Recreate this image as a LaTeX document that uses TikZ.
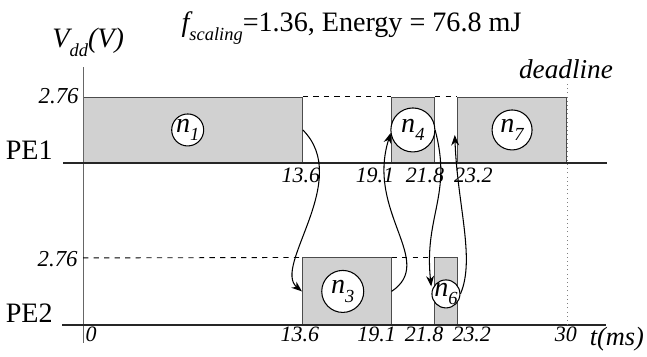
\documentclass[tikz,border=0pt]{standalone}
\usepackage{fontspec}
\setmainfont{Liberation Serif}
\usetikzlibrary{fit,arrows.meta}
\newcommand{\lowidx}[1]{\raisebox{-0.3em}{\fontsize{10.5}{12}\selectfont\itshape #1}}
\newcommand{\nn}[1]{\makebox[0pt]{\itshape n\lowidx{#1}}}
\begin{document}
\begin{tikzpicture}[x=0.3227cm, y=1cm, font=\fontsize{16}{19}\selectfont,
    task/.style={draw=black!70, fill=black!18, inner sep=0pt, line width=0.5pt},
    job/.style={circle, draw, fill=white, inner sep=0pt, line width=0.6pt},
    tick/.style={font=\fontsize{12.5}{15}\selectfont\itshape, inner sep=1pt, anchor=north},
    link/.style={-{Stealth[length=6pt,width=4.5pt]}, line width=0.6pt}]
    \useasboundingbox (-5.146,-0.64) rectangle (34.965,6.5);

    % Task PE1
    \node[task, fit={(0,3.24) (13.6,4.56)}] (b1) {};
    \node[task, fit={(19.1,3.24) (21.8,4.56)}] (b4) {};
    \node[task, fit={(23.2,3.24) (30,4.56)}] (b7) {};
    % Task PE2
    \node[task, fit={(13.6,0) (19.1,1.34)}] (b3) {};
    \node[task, fit={(21.8,0) (23.2,1.34)}] (b6) {};

    % Assi
    \draw[black!60, line width=0.5pt] (0,-0.36) -- (0,5.16);
    \draw[black!85, line width=0.9pt] (-1.24,3.24) -- (32.5,3.24);
    \draw[black!85, line width=0.9pt] (-1.3,0) -- (32.4,0);
    \draw[black!50, dotted] (30,0) -- (30,4.84);

    % Livello 2.76 tratteggiato
    \draw[dashed, line width=0.5pt] (b1.north east) -- (b4.north west);
    \draw[dashed, line width=0.5pt] (b4.north east) -- (b7.north west);
    \draw[dashed, line width=0.5pt] (0,1.34) -- (b3.north west);
    \draw[dashed, line width=0.5pt] (b3.north east) -- (b6.north west);

    % Cerchi dei task
    \node[job, minimum size=0.64cm, xshift=-0.1cm] (n1) at (b1) {\nn{1}};
    \node[job, minimum size=0.88cm] (n4) at (b4) {\nn{4}};
    \node[job, minimum size=0.80cm] (n7) at (b7) {\nn{7}};
    \node[job, minimum size=0.84cm, xshift=-0.08cm] (n3) at (b3) {\nn{3}};
    \node[job, minimum size=0.56cm, yshift=-0.05cm] (n6) at (b6) {\nn{6}};

    % Dipendenze
    \draw[link] (b1.east) .. controls +(1cm,-1cm) and +(-0.6cm,0.5cm) .. (b3.west);
    \draw[link] (b3.east) .. controls +(0.9cm,0.6cm) and +(-0.5cm,-1.6cm) .. ([yshift=-0.06cm]b4.west);
    \draw[link] (b4.east) .. controls +(0.35cm,-1.3cm) and +(-0.15cm,1.4cm) .. ([xshift=-0.06cm,yshift=0.1cm]b6.west);
    \draw[link] (n6.east) .. controls +(0.3cm,0.7cm) and +(0.05cm,-1.4cm) .. ([xshift=-0.04cm,yshift=-0.1cm]b7.west);

    % Etichette
    \node[anchor=base] (titolo) at (16.65,5.86) {{\itshape f}\lowidx{scaling}=1.36, Energy = 76.8 mJ};
    \node[anchor=base west, inner sep=0pt] (vdd) at (-1.92,5.54) {\itshape V\lowidx{dd}(V)};
    \node[anchor=base, font=\fontsize{15.5}{18}\selectfont\itshape] (dl) at (29.94,4.92) {deadline};
    \node[anchor=east, inner sep=0pt, font=\fontsize{13}{15}\selectfont\itshape] (v1) at (-0.25,4.58) {2.76};
    \node[anchor=east, inner sep=0pt, font=\fontsize{13}{15}\selectfont\itshape] (v2) at (-0.31,1.32) {2.76};
    \node[anchor=base east, inner sep=0pt] (pe1) at (-1.86,3.30) {PE1};
    \node[anchor=base east, inner sep=0pt] (pe2) at (-1.86,0.04) {PE2};

    % Tempi PE1
    \node[tick, yshift=-0.06cm] (a136) at (13.5,3.24) {13.6};
    \node[tick, yshift=-0.06cm] (a191) at (18.1,3.24) {19.1};
    \node[tick, yshift=-0.06cm] (a218) at (21.2,3.24) {21.8};
    \node[tick, yshift=-0.06cm] (a232) at (24.2,3.24) {23.2};
    % Tempi PE2
    \node[tick] (c0) at (0.5,0) {0};
    \node[tick] (c136) at (13.45,0) {13.6};
    \node[tick] (c191) at (18.2,0) {19.1};
    \node[tick] (c218) at (21.15,0) {21.8};
    \node[tick] (c232) at (24.1,0) {23.2};
    \node[tick] (c30) at (29.94,0) {30};
    \node[anchor=north, inner sep=1pt, font=\fontsize{15}{18}\selectfont\itshape] (tms) at (33.1,0) {t(ms)};
\end{tikzpicture}
\end{document}
